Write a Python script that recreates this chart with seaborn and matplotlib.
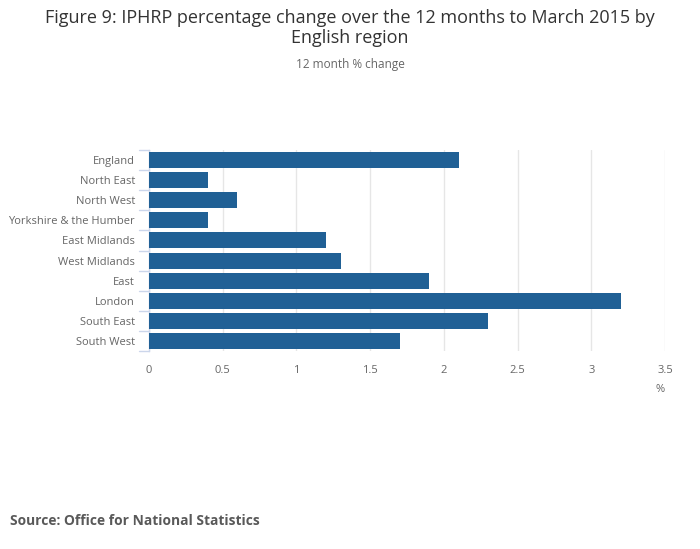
import pandas as pd
import matplotlib.pyplot as plt
import seaborn as sns

# Data
regions = ["England", "North East", "North West", "Yorkshire & the Humber",
           "East Midlands", "West Midlands", "East", "London",
           "South East", "South West"]
pct_change = [2.1, 0.4, 0.6, 0.4, 1.2, 1.3, 1.9, 3.2, 2.3, 1.7]
x_ticks = [0, 0.5, 1, 1.5, 2, 2.5, 3, 3.5]
x_tick_labels = ["0", "0.5", "1", "1.5", "2", "2.5", "3", "3.5"]

df = pd.DataFrame({"Region": regions, "Change": pct_change})

sns.set_theme(style="white")
plt.rcParams["font.family"] = ["Open Sans", "DejaVu Sans"]

fig = plt.figure(figsize=(7, 5.49), dpi=100)
ax = fig.add_axes([149 / 700, 1 - 351 / 549, 516 / 700, 201 / 549])

sns.barplot(data=df, x="Change", y="Region", color="#206095", saturation=1,
            width=0.8, linewidth=0, ax=ax, zorder=3)

ax.set_xlim(0, 3.5)
ax.set_ylim(len(regions) - 0.5, -0.5)
ax.set_xticks(x_ticks)
ax.set_xticklabels(x_tick_labels)
ax.grid(axis="x", color="#e6e6e6", linewidth=1, zorder=0)
ax.tick_params(axis="x", length=0, labelsize=8, colors="#666666", pad=10)

# category ticks sit between the bars
ax.set_yticks(range(len(regions)))
ax.set_yticklabels(regions)
ax.tick_params(axis="y", length=0, labelsize=8, colors="#666666", pad=10)
for b in [i - 0.5 for i in range(len(regions) + 1)]:
    ax.plot([-10 / 516, 0], [b, b], color="#ccd6eb", linewidth=1,
            transform=ax.get_yaxis_transform(), clip_on=False)

for side in ["top", "right", "bottom"]:
    ax.spines[side].set_visible(False)
ax.spines["left"].set_color("#ccd6eb")
ax.spines["left"].set_linewidth(1)

ax.set_xlabel("")
ax.set_ylabel("")
fig.text(660 / 700, 1 - 389 / 549, "%", ha="center", va="center",
         fontsize=8, color="#666666")

fig.text(0.5, 1 - 28 / 549,
         "Figure 9: IPHRP percentage change over the 12 months to March 2015 by\nEnglish region",
         ha="center", va="center", fontsize=13, color="#333333", linespacing=1.2)
fig.text(0.5, 1 - 64 / 549, "12 month % change", ha="center", va="center",
         fontsize=8.5, color="#666666")
fig.text(10 / 700, 1 - 521 / 549, "Source: Office for National Statistics",
         ha="left", va="center", fontsize=9.9, fontweight="bold", color="#595959")

fig.savefig("out.png", dpi=100)
